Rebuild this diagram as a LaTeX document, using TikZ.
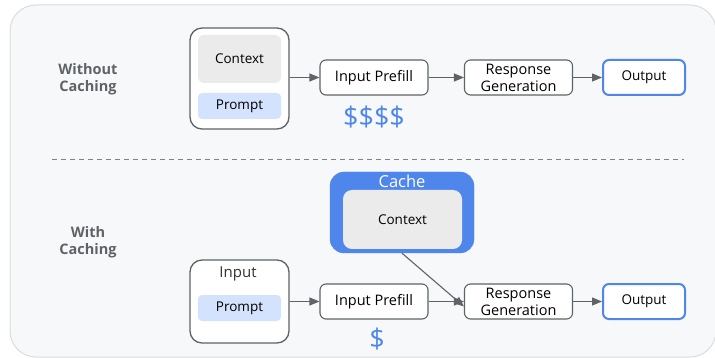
\documentclass[tikz,border=0pt]{standalone}
\usepackage{fontspec}
\setmainfont{Open Sans}
\usetikzlibrary{arrows.meta}
\definecolor{frameline}{HTML}{DADCE0}
\definecolor{framefill}{HTML}{F7F8FA}
\definecolor{boxline}{HTML}{5F6368}
\definecolor{ctxfill}{HTML}{EBEBEB}
\definecolor{promptfill}{HTML}{D3E3FD}
\definecolor{gblue}{HTML}{4F86EC}
\definecolor{labelgray}{HTML}{5F6368}
\tikzset{
  outerbox/.style={draw=boxline, line width=1.3pt, fill=white, rounded corners=12pt},
  stagebox/.style={draw=boxline, line width=1.1pt, fill=white, rounded corners=6pt,
    minimum width=108pt, minimum height=35pt, align=center, font=\fontsize{14.5}{17}\selectfont, inner sep=0pt},
  outbox/.style={draw=gblue, line width=2pt, fill=white, rounded corners=6pt,
    minimum width=82pt, minimum height=35pt, font=\fontsize{13.5}{15}\selectfont, inner sep=0pt},
  ctxbox/.style={fill=ctxfill, rounded corners=6pt, font=\fontsize{13.5}{15}\selectfont, inner sep=0pt},
  promptbox/.style={fill=promptfill, rounded corners=4pt, minimum width=83pt, minimum height=26pt,
    font=\fontsize{13.5}{15}\selectfont, inner sep=0pt},
  flow/.style={draw=boxline, line width=1.1pt, -{Triangle[length=10pt,width=8pt]}},
  rowlabel/.style={font=\bfseries\fontsize{14.5}{17}\selectfont, text=labelgray, align=center},
  cost/.style={text=gblue, font=\fontsize{27}{27}\selectfont}
}
\begin{document}
\begin{tikzpicture}[x=1pt,y=-1pt]
\useasboundingbox (0,0) rectangle (715,358);
% outer panel
\draw[frameline, fill=framefill, line width=1pt, rounded corners=26pt] (10,5) rectangle (716,357);

% ---------- without caching ----------
\node[rowlabel] (lab1) at (88,79) {Without\\Caching};
\node[outerbox, minimum width=99pt, minimum height=101pt] (in1) at (239.5,78.5) {};
\node[ctxbox, minimum width=83pt, minimum height=48pt] (ctx1) at (239.5,59) {Context};
\node[promptbox] (pr1) at (239.5,106) {Prompt};
\node[stagebox] (pf1) at (374,77.5) {Input Prefill};
\node[stagebox] (rg1) at (518.5,77.5) {Response\\Generation};
\node[outbox] (out1) at (644,77.5) {Output};
\node[cost] (c1) at (374,117) {\$\$\$\$};
\draw[flow] (in1.east |- pf1) -- (pf1.west);
\draw[flow] (pf1) -- (rg1);
\draw[flow] (rg1) -- (out1);

% separator
\coordinate (sepL) at (52,160);
\coordinate (sepR) at (684,160);
\draw[boxline!80, line width=1pt, dash pattern=on 5pt off 4pt] (sepL) -- (sepR);

% ---------- with caching ----------
\node[rowlabel] (lab2) at (88,242) {With\\Caching};
\node[draw=gblue, fill=gblue, rounded corners=14pt, minimum width=144pt, minimum height=81pt] (cache) at (402,212.5) {};
\node[text=white, font=\fontsize{16.5}{17}\selectfont] (cachelab) at (402,181) {Cache};
\node[ctxbox, rounded corners=9pt, minimum width=119pt, minimum height=59pt] (ctx2) at (402.5,219.5) {Context};
\node[outerbox, minimum width=99pt, minimum height=83pt] (in2) at (239.5,301.5) {};
\node[text=black!80, font=\fontsize{15}{16}\selectfont] (inlab) at (238,274) {Input};
\node[promptbox] (pr2) at (239.5,308) {Prompt};
\node[stagebox] (pf2) at (374,301.5) {Input Prefill};
\node[stagebox] (rg2) at (518.5,301.5) {Response\\Generation};
\node[outbox] (out2) at (644,301.5) {Output};
\node[cost] (c2) at (377,339) {\$};
\draw[flow] (in2.east |- pf2) -- (pf2.west);
\draw[flow] (pf2) -- (rg2);
\draw[flow] (rg2) -- (out2);
\draw[flow] (cache.south) -- ([yshift=-5pt]rg2.west);
\end{tikzpicture}
\end{document}
